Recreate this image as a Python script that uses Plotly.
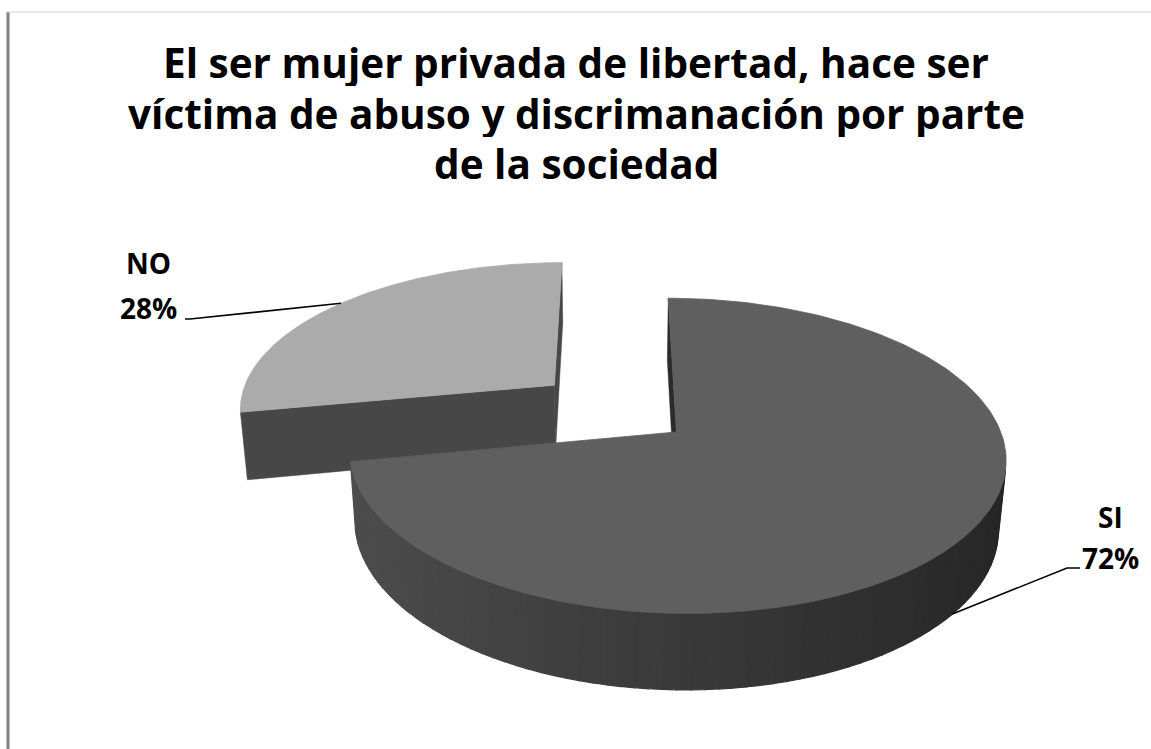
import numpy as np
import plotly.graph_objects as go

# data
labels = ["SI", "NO"]
values = [72, 28]
title_lines = [
    "El ser mujer privada de libertad, hace ser",
    "víctima de abuso y discrimanación por parte",
    "de la sociedad",
]

# canvas / camera setup (pixel-like axes)
W, H = 1151, 749
CX, CY = 614, 408          # where the pie centre lands
K = 1900                   # focal scale
CAM_D = 6.0                # camera distance in pie radii
COS_E, SIN_E = 0.886, np.sqrt(1 - 0.886 ** 2)
DEPTH = 0.245              # pie thickness in radii
EXPLODE = 0.25             # slice pull-out in radii
CAM = np.array([0.0, -CAM_D * COS_E, CAM_D * SIN_E])

slice_style = {
    "SI": dict(top="#5f5f5f", cut="#2b2b2b", side=57),
    "NO": dict(top="#ababab", cut="#474747", side=90),
}
label_style = {
    # x centre, name y, pct y, leader start (x, y), leader tick, rim used for anchor
    "SI": dict(x=1110, y_name=517, y_pct=558, lead=(1080, 568), tick=-13, rim="bottom"),
    "NO": dict(x=148, y_name=263, y_pct=308, lead=(185, 319), tick=5, rim="top"),
}
FONT = "Open Sans"
TITLE_X, TITLE_Y0, TITLE_STEP = 576, 62, 50.5


def project(X, Y, Z):
    X, Y, Z = np.asarray(X, float), np.asarray(Y, float), np.asarray(Z, float)
    dep = CAM_D + Y * COS_E - Z * SIN_E
    return CX + K * X / dep, CY - K * (Y * SIN_E + Z * COS_E) / dep


def visible(normal, point):
    return np.dot(normal, CAM - point) > 0


def poly(px, py, color, lw=1.0, lcolor=None):
    return go.Scatter(
        x=list(px) + [px[0]], y=list(py) + [py[0]], mode="lines", fill="toself",
        fillcolor=color, line=dict(color=lcolor or color, width=lw),
        hoverinfo="skip", showlegend=False,
    )


# slice angles: start at 12 o'clock, clockwise
total = sum(values)
cum = np.cumsum([0] + values) / total
slices = []
for i, lab in enumerate(labels):
    a0 = np.radians(90 - 360 * cum[i])
    a1 = np.radians(90 - 360 * cum[i + 1])
    mid = (a0 + a1) / 2
    xc, yc = EXPLODE * np.cos(mid), EXPLODE * np.sin(mid)
    slices.append(dict(label=lab, value=values[i], a0=a0, a1=a1, mid=mid, xc=xc, yc=yc))

# paint far slice first
slices.sort(key=lambda s: -(CAM_D + s["yc"] * COS_E))

fig = go.Figure()
for s in slices:
    st = slice_style[s["label"]]
    xc, yc = s["xc"], s["yc"]
    centre = np.array([xc, yc, 0.0])

    # radial cut faces
    for ang, nrm_ang in ((s["a0"], s["a0"] + np.pi / 2), (s["a1"], s["a1"] - np.pi / 2)):
        n = np.array([np.cos(nrm_ang), np.sin(nrm_ang), 0.0])
        if not visible(n, centre):
            continue
        X = [xc, xc + np.cos(ang), xc + np.cos(ang), xc]
        Y = [yc, yc + np.sin(ang), yc + np.sin(ang), yc]
        Z = [0, 0, -DEPTH, -DEPTH]
        px, py = project(X, Y, Z)
        fig.add_trace(poly(px, py, st["cut"], lw=0.5))

    # curved outer side, shaded strip by strip
    ts = np.linspace(s["a0"], s["a1"], 121)
    for t0, t1 in zip(ts[:-1], ts[1:]):
        tm = (t0 + t1) / 2
        n = np.array([np.cos(tm), np.sin(tm), 0.0])
        if not visible(n, centre + n):
            continue
        X = [xc + np.cos(t0), xc + np.cos(t1), xc + np.cos(t1), xc + np.cos(t0)]
        Y = [yc + np.sin(t0), yc + np.sin(t1), yc + np.sin(t1), yc + np.sin(t0)]
        Z = [0, 0, -DEPTH, -DEPTH]
        px, py = project(X, Y, Z)
        g = int(round(st["side"] - 20 * np.cos(tm)))
        col = f"rgb({g},{g},{g})"
        fig.add_trace(poly(px, py, col, lw=1.2))

    # top face
    tt = np.linspace(s["a0"], s["a1"], 240)
    X = np.concatenate([[xc], xc + np.cos(tt)])
    Y = np.concatenate([[yc], yc + np.sin(tt)])
    px, py = project(X, Y, np.zeros_like(X))
    fig.add_trace(poly(px, py, st["top"], lw=0.8))

    # label and leader line
    ls = label_style[s["label"]]
    z_anchor = -DEPTH if ls["rim"] == "bottom" else 0.0
    ax, ay = project(xc + np.cos(s["mid"]), yc + np.sin(s["mid"]), z_anchor)
    lx, ly = ls["lead"]
    fig.add_trace(go.Scatter(
        x=[lx, lx + ls["tick"], float(ax)], y=[ly, ly, float(ay)], mode="lines",
        line=dict(color="black", width=1.6), hoverinfo="skip", showlegend=False,
    ))
    for txt, yy in ((s["label"], ls["y_name"]), (f"{s['value']}%", ls["y_pct"])):
        fig.add_annotation(
            x=ls["x"], y=yy, text=f"<b>{txt}</b>", showarrow=False,
            font=dict(family=FONT, size=28, color="black"),
            xanchor="center", yanchor="middle",
        )

# title, one line per annotation so the line spacing matches
for j, line in enumerate(title_lines):
    fig.add_annotation(
        x=TITLE_X, y=TITLE_Y0 + j * TITLE_STEP, text=f"<b>{line}</b>", showarrow=False,
        font=dict(family=FONT, size=40.5, color="black"),
        xanchor="center", yanchor="middle", height=48, valign="middle",
    )

# chart frame lines
fig.add_shape(type="line", x0=8, x1=8, y0=12, y1=H, line=dict(color="#808080", width=3))
fig.add_shape(type="line", x0=7, x1=W, y0=12, y1=12, line=dict(color="#d2d2d2", width=1))

fig.update_layout(
    width=W, height=H,
    margin=dict(l=0, r=0, t=0, b=0),
    paper_bgcolor="white", plot_bgcolor="white",
    xaxis=dict(range=[0, W], visible=False, fixedrange=True),
    yaxis=dict(range=[H, 0], visible=False, fixedrange=True),
    showlegend=False,
)

fig.write_html(
    "out.html",
    config={"displayModeBar": False},
    post_script="document.body.style.margin='0';document.body.style.overflow='hidden';",
)
